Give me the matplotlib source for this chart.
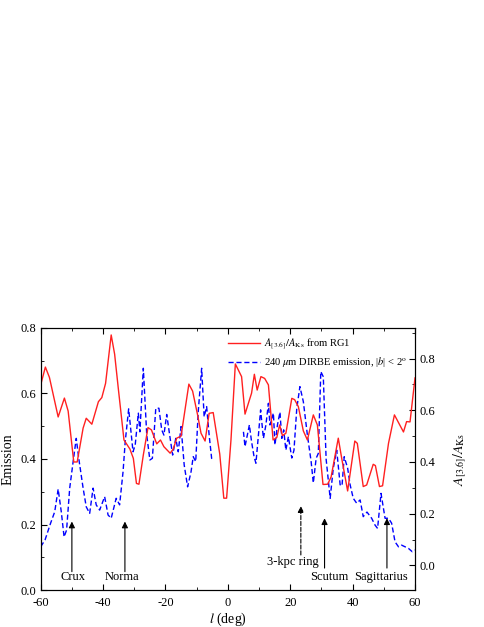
import numpy as np
import matplotlib
matplotlib.use('Agg')
import matplotlib.pyplot as plt
from matplotlib.ticker import MultipleLocator

plt.rcParams['font.family'] = ['Liberation Serif', 'DejaVu Serif']
plt.rcParams['mathtext.fontset'] = 'stix'
plt.rcParams['axes.unicode_minus'] = False

# A[3.6]/AKs from RG1 (right axis)
l_red = [-60, -58.5, -57.2, -54.4, -52.4, -51.2, -49.4, -48.3, -46.4, -45.4, -43.6, -41.5, -40.4, -39.2,
         -37.4, -36.3, -35.1, -33.3, -31.4, -30.3, -29.3, -28.5, -27.1, -25.6, -24.5, -22.8, -21.6, -20.5,
         -18.5, -17.5, -16.4, -15.0, -12.5, -11.3, -9.7, -8.6, -7.3, -6.0, -4.7, -2.6, -1.3, -0.4, 1.0,
         2.4, 4.4, 5.5, 7.6, 8.5, 9.4, 10.6, 11.8, 13.0, 14.5, 15.7, 16.6, 17.5, 18.6, 20.5, 21.4, 22.6,
         24.2, 25.5, 27.4, 28.7, 30.5, 32.0, 33.1, 35.4, 36.5, 38.4, 40.7, 41.5, 43.4, 44.5, 46.6, 47.3,
         48.6, 49.6, 51.5, 53.4, 56.3, 57.3, 58.4, 60]
a_red = [0.698, 0.767, 0.727, 0.574, 0.647, 0.597, 0.400, 0.400, 0.531, 0.569, 0.546, 0.633, 0.649, 0.704,
         0.891, 0.817, 0.682, 0.485, 0.450, 0.414, 0.317, 0.314, 0.427, 0.533, 0.524, 0.470, 0.485, 0.459,
         0.434, 0.450, 0.492, 0.500, 0.701, 0.674, 0.582, 0.511, 0.481, 0.588, 0.591, 0.431, 0.260, 0.260, 0.485,
         0.779, 0.730, 0.585, 0.666, 0.739, 0.678, 0.730, 0.723, 0.698, 0.485, 0.495, 0.543, 0.502, 0.511, 0.646, 0.641, 0.614,
         0.520, 0.485, 0.582, 0.543, 0.313, 0.314, 0.342, 0.492, 0.414, 0.288, 0.481, 0.472, 0.305, 0.311, 0.391, 0.386,
         0.305, 0.308, 0.472, 0.582, 0.516, 0.556, 0.555, 0.725]

# 240 um DIRBE emission (left axis), gap near the Galactic centre
l_blue = [-60, -58.6, -56.9, -55.5, -54.4, -53.4, -52.5, -51.7, -50.7, -49.6, -48.6, -47.8, -46.4, -45.4,
          -44.3, -43.2, -42.2, -41.1, -39.5, -38.4, -37.4, -35.8, -34.7, -33.6, -32.9, -31.8, -30.4, -29.7,
          -28.7, -28.2, -27.1, -26.0, -25.0, -24.2, -23.1, -22.1, -21.2, -20.5, -19.6, -18.5, -17.7, -16.7,
          -15.9, -15.0, -14.0, -12.9, -11.8, -11.1, -10.3, -9.5, -8.4, -7.6, -6.8, -6.0, -5.2, -4.8, np.nan,
          5.0, 5.5, 6.9, 7.6, 8.4, 9.0, 9.8, 10.5, 11.4, 12.2, 13.0, 13.5, 14.6, 15.1, 15.9, 16.7, 17.3, 17.9,
          18.6, 19.4, 20.5, 21.2, 22.1, 23.1, 24.2, 25.5, 26.7, 27.4, 28.3, 29.0, 29.8, 30.6, 31.5, 32.8,
          33.8, 34.9, 36.0, 36.6, 37.3, 38.4, 39.2, 40.2, 41.3, 42.4, 43.4, 44.6, 46.1, 47.2, 48.0, 49.1,
          50.4, 51.5, 52.5, 53.6, 54.7, 55.7, 56.8, 57.9, 59.1, 60]
e_blue = [0.132, 0.153, 0.202, 0.239, 0.308, 0.239, 0.162, 0.183, 0.311, 0.392, 0.463, 0.402, 0.311, 0.254,
          0.234, 0.311, 0.260, 0.244, 0.285, 0.229, 0.219, 0.280, 0.260, 0.361, 0.453, 0.553, 0.422, 0.443,
          0.540, 0.483, 0.677, 0.473, 0.397, 0.402, 0.555, 0.555, 0.489, 0.473, 0.536, 0.463, 0.412, 0.463,
          0.422, 0.499, 0.382, 0.315, 0.361, 0.407, 0.392, 0.544, 0.677, 0.529, 0.560, 0.473, 0.402, 0.397, np.nan,
          0.483, 0.438, 0.504, 0.453, 0.407, 0.387, 0.473, 0.550, 0.463, 0.504, 0.570, 0.504, 0.540, 0.443, 0.504, 0.543, 0.463, 0.489,
          0.427, 0.468, 0.403, 0.427, 0.555, 0.621, 0.575, 0.473, 0.392, 0.327, 0.402, 0.417, 0.667, 0.651, 0.400, 0.280,
          0.372, 0.427, 0.321, 0.318, 0.407, 0.372, 0.321, 0.280, 0.265, 0.275, 0.224, 0.238, 0.219, 0.198, 0.188, 0.295,
          0.219, 0.219, 0.204, 0.147, 0.132, 0.137, 0.132, 0.127, 0.117, 0.122]

# arrows: name, l, tip, tail, text position
arm_names = ['Crux', 'Norma', '3-kpc ring', 'Scutum', 'Sagittarius']
arm_l = [-50, -33, 23.4, 31, 51]
arm_tip = [0.209, 0.209, 0.256, 0.219, 0.219]
arm_tail = [0.056, 0.056, 0.107, 0.067, 0.067]
arm_text_l = [-49.7, -33.8, 20.7, 32.5, 49.2]
arm_text_y = [0.041, 0.041, 0.086, 0.041, 0.041]
arm_dashed = [False, False, True, False, False]

fig = plt.figure(figsize=(4.85, 6.27), dpi=100)
ax = fig.add_axes([0.0839, 0.0590, 0.7718, 0.4179])
ax2 = ax.twinx()

lb, = ax.plot(l_blue, e_blue, color='#0000ff', lw=1.0, ls=(0, (3.7, 2.0)),
              label=r'240 $\mu$m DIRBE emission, |$b$| < 2$^{\rm o}$')
lr, = ax2.plot(l_red, a_red, color='#ff2020', lw=1.0,
               label=r'$A_{[3.6]}/A_{\rm Ks}$ from RG1')

ax.set_xlim(-60, 60)
ax.set_ylim(0, 0.8)
ax2.set_ylim(-0.095, 0.918)

ax.xaxis.set_major_locator(MultipleLocator(20))
ax.xaxis.set_minor_locator(MultipleLocator(10))
ax.yaxis.set_major_locator(MultipleLocator(0.2))
ax.yaxis.set_minor_locator(MultipleLocator(0.1))
ax2.yaxis.set_major_locator(MultipleLocator(0.2))
ax2.yaxis.set_minor_locator(MultipleLocator(0.1))

ax.tick_params(which='both', direction='in', top=True, labelsize=9)
ax.tick_params(which='major', length=4)
ax.tick_params(which='minor', length=2.5)
ax.tick_params(axis='x', pad=5)
ax2.tick_params(which='both', direction='in', labelsize=9)
ax2.tick_params(which='major', length=4)
ax2.tick_params(which='minor', length=2.5)
ax.yaxis.set_major_formatter(plt.FormatStrFormatter('%.1f'))
ax2.yaxis.set_major_formatter(plt.FormatStrFormatter('%.1f'))

ax.set_xlabel(r'$l$ (deg)', fontsize=10, labelpad=1)
ax.set_ylabel('Emission', fontsize=10)
ax2.set_ylabel(r'$A_{[3.6]}/A_{\rm Ks}$', fontsize=10, labelpad=11)

for name, l0, tip, tail, tl, ty, dsh in zip(arm_names, arm_l, arm_tip, arm_tail,
                                             arm_text_l, arm_text_y, arm_dashed):
    ax.annotate('', xy=(l0, tip), xytext=(l0, tail),
                arrowprops=dict(arrowstyle='-|>', color='black', lw=0.8,
                                ls='--' if dsh else '-', mutation_scale=9,
                                shrinkA=0, shrinkB=0))
    ax.text(tl, ty, name, fontsize=9, ha='center', va='center')

ax2.legend(handles=[lr, lb], loc='upper left', bbox_to_anchor=(0.500, 0.968),
           frameon=False, fontsize=7.6, handlelength=3.0, handletextpad=0.45,
           labelspacing=0.35, borderpad=0, borderaxespad=0)

fig.savefig('out.png', dpi=100)
